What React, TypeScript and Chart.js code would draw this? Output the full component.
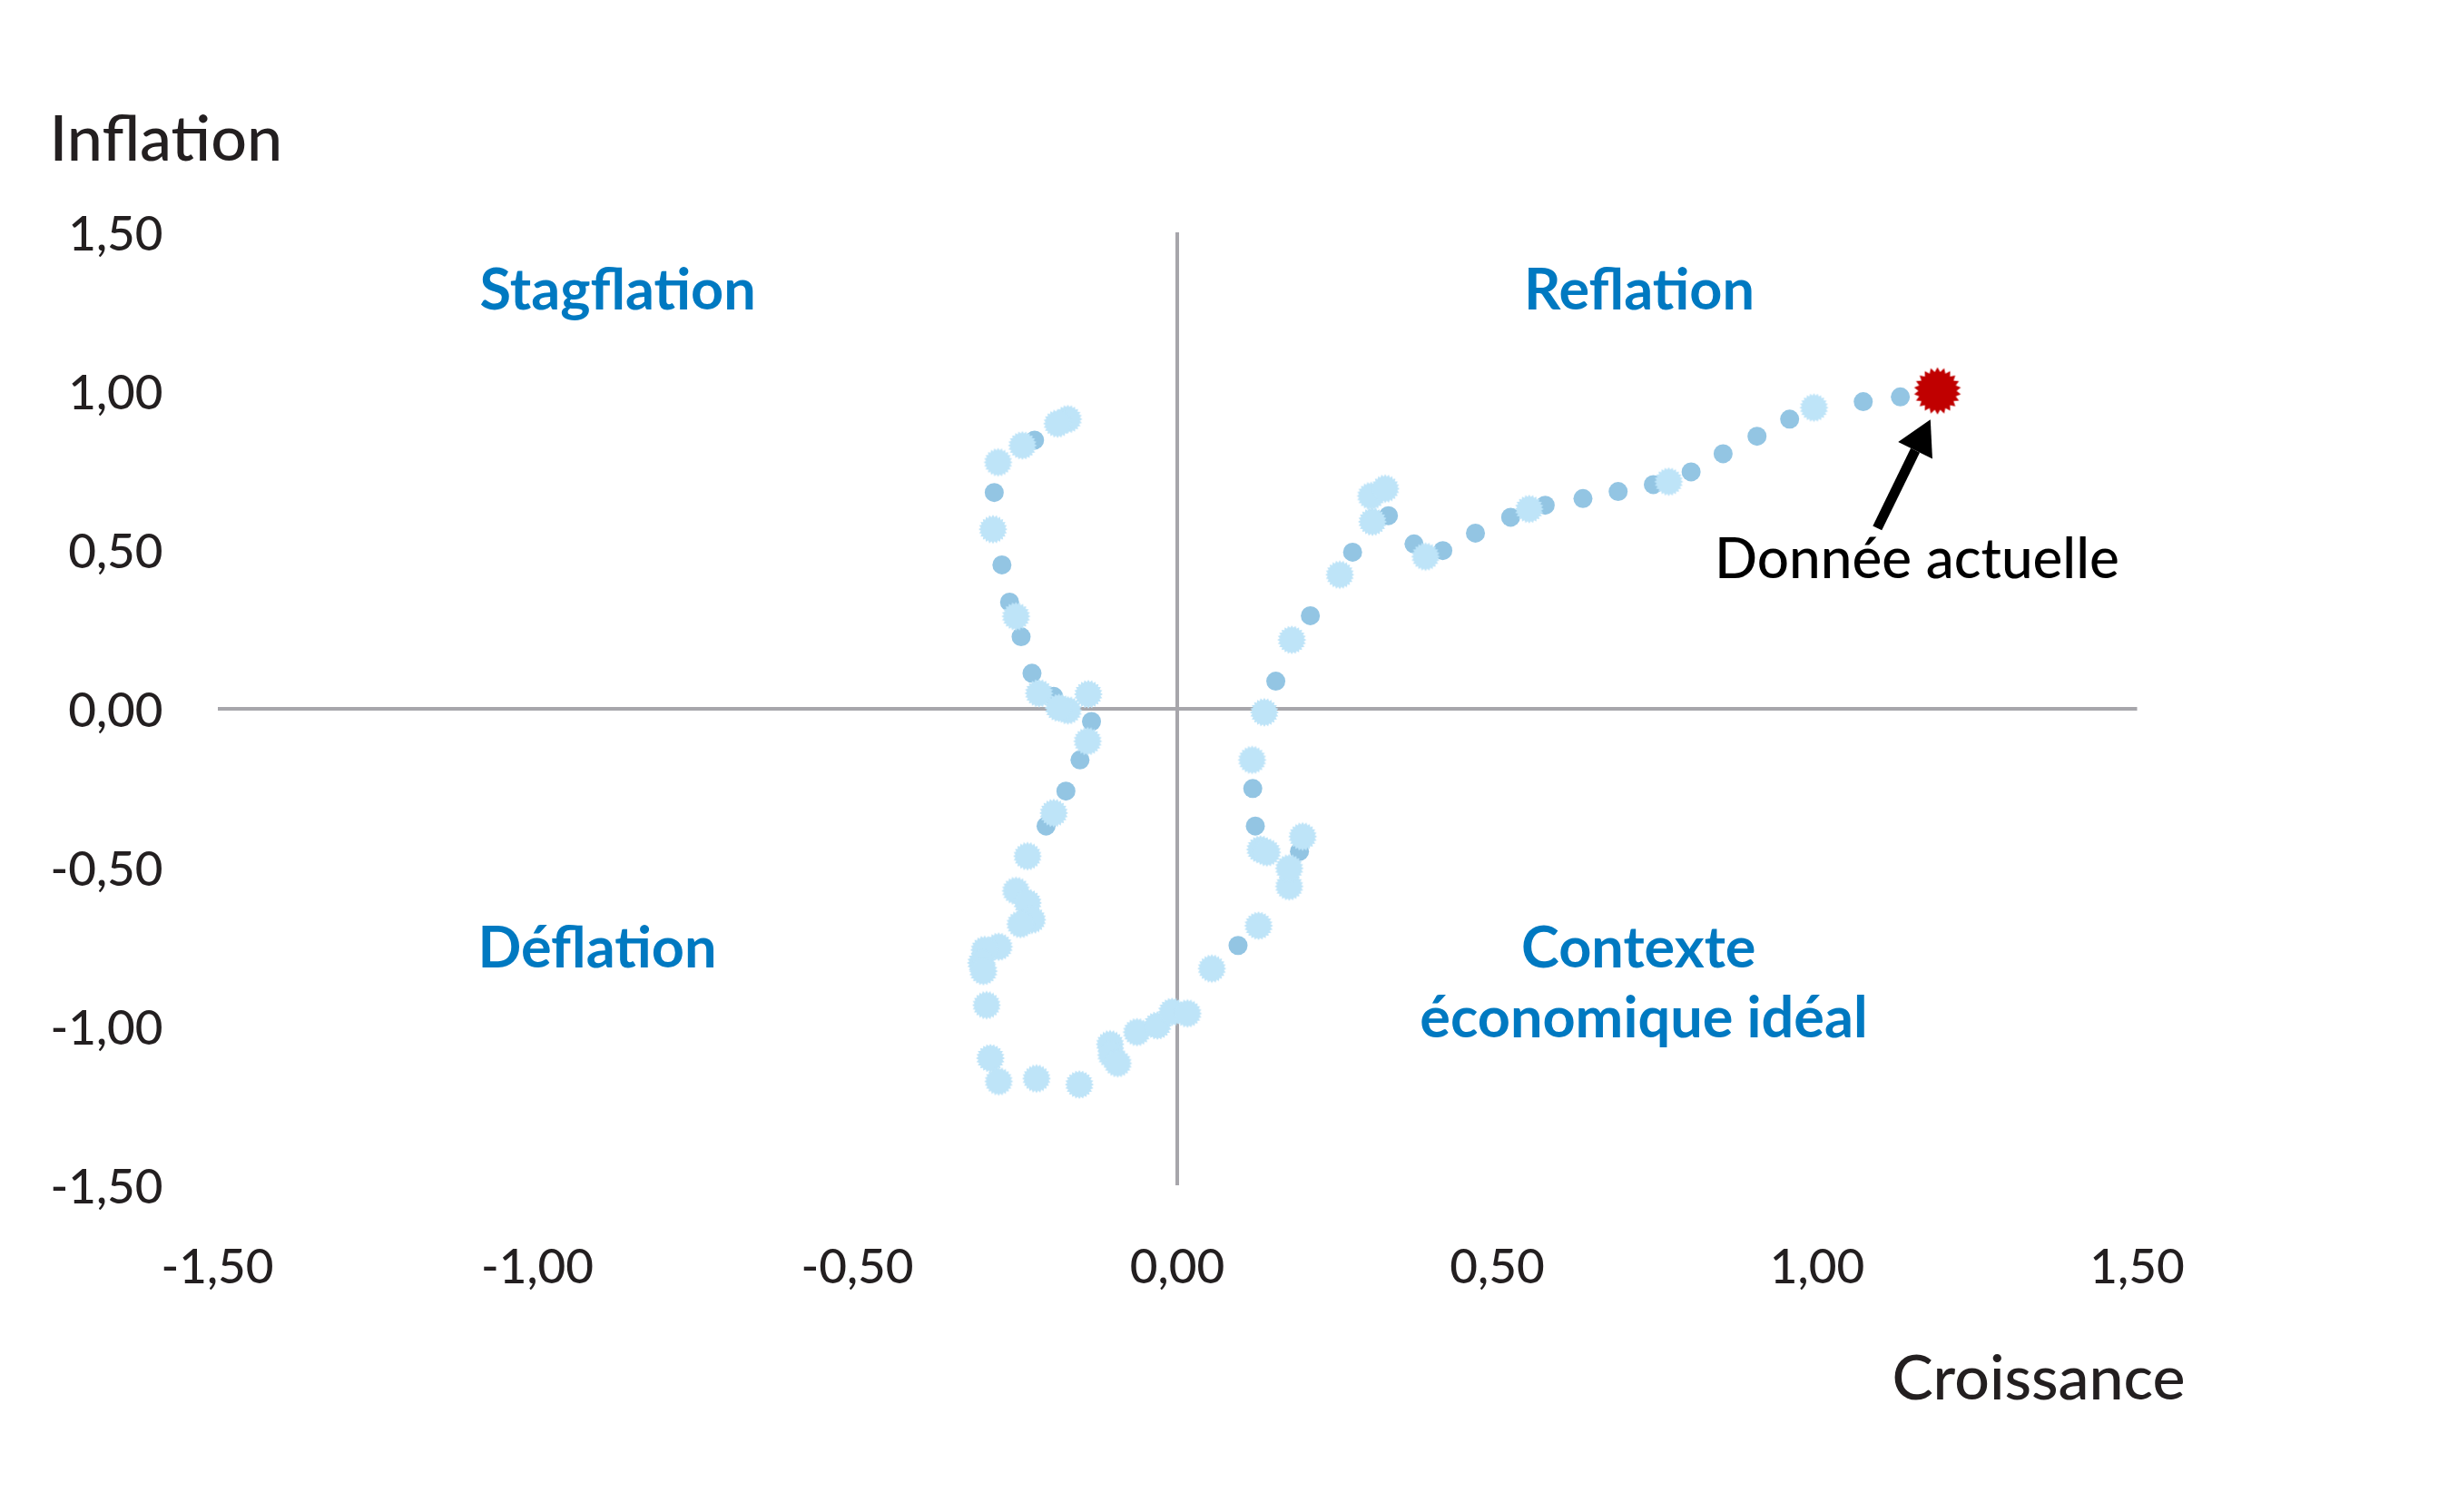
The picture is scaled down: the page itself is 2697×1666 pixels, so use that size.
import React, { useEffect, useRef } from "react";
import { Chart, registerables } from "chart.js";

Chart.register(...registerables);

// ---- Data (Croissance = x, Inflation = y) ----
const monthlyGrowth = [
  -0.223, -0.286, -0.274, -0.262, -0.244, -0.227, -0.193, -0.134, -0.152, -0.174, -0.205,
  0.095, 0.191, 0.122, 0.118, 0.154, 0.208, 0.274, 0.330, 0.370, 0.415, 0.466, 0.521,
  0.575, 0.634, 0.689, 0.744, 0.803, 0.853, 0.906, 0.957, 1.072, 1.130,
];
const monthlyInflation = [
  0.846, 0.681, 0.453, 0.336, 0.227, 0.112, 0.039, -0.040, -0.161, -0.259, -0.369,
  -0.745, -0.449, -0.369, -0.251, 0.087, 0.293, 0.493, 0.608, 0.519, 0.498, 0.553, 0.603,
  0.641, 0.662, 0.684, 0.706, 0.746, 0.803, 0.858, 0.912, 0.967, 0.982,
];

const quarterlyGrowth = [
  -0.171, -0.187, -0.242, -0.280, -0.288, -0.252, -0.216, -0.139, -0.171, -0.185, -0.140,
  -0.193, -0.234, -0.252, -0.234, -0.227, -0.245, -0.279, -0.301, -0.306, -0.303, -0.298,
  -0.292, -0.279, -0.220, -0.153, -0.105, -0.103, -0.093, -0.063, -0.031, -0.008, 0.016,
  0.054, 0.127, 0.175, 0.175, 0.196, 0.130, 0.140, 0.117, 0.136, 0.179, 0.254, 0.305,
  0.303, 0.325, 0.388, 0.550, 0.768, 0.995,
];
const quarterlyInflation = [
  0.912, 0.898, 0.829, 0.776, 0.565, 0.291, 0.049, 0.046, -0.005, 0.003, -0.102,
  -0.328, -0.464, -0.573, -0.611, -0.664, -0.678, -0.749, -0.759, -0.800, -0.826, -0.933,
  -1.100, -1.173, -1.164, -1.183, -1.056, -1.090, -1.116, -1.018, -0.997, -0.954, -0.959,
  -0.818, -0.683, -0.559, -0.502, -0.402, -0.443, -0.452, -0.161, -0.011, 0.217, 0.422, 0.589,
  0.670, 0.693, 0.479, 0.629, 0.715, 0.948,
];

const currentGrowth = [1.188];
const currentInflation = [1.001];

const xTickLabels = ["-1,50", "-1,00", "-0,50", "0,00", "0,50", "1,00", "1,50"];
const yTickLabels = ["-1,50", "-1,00", "-0,50", "0,00", "0,50", "1,00", "1,50"];

const xAxisTitle = "Croissance";
const yAxisTitle = "Inflation";
const quadrantLabels = ["Stagflation", "Reflation", "Déflation", "Contexte", "économique idéal"];
const currentLabel = "Donnée actuelle";

const FONT = "Lato, 'Open Sans', sans-serif";
const TEXT = "#231F20";
const BLUE = "#0079C1";

function makeStar(outer: number, inner: number, spikes: number, color: string) {
  const size = Math.ceil(outer * 2 + 2);
  const c = document.createElement("canvas");
  c.width = size;
  c.height = size;
  const g = c.getContext("2d")!;
  g.fillStyle = color;
  g.beginPath();
  const cx = size / 2;
  const cy = size / 2;
  for (let i = 0; i < spikes * 2; i++) {
    const r = i % 2 === 0 ? outer : inner;
    const a = (Math.PI * i) / spikes - Math.PI / 2;
    const px = cx + r * Math.cos(a);
    const py = cy + r * Math.sin(a);
    if (i === 0) g.moveTo(px, py);
    else g.lineTo(px, py);
  }
  g.closePath();
  g.fill();
  return c;
}

const toPts = (xs: number[], ys: number[]) => xs.map((x, i) => ({ x, y: ys[i] }));

export default function App() {
  const ref = useRef<HTMLCanvasElement | null>(null);

  useEffect(() => {
    document.body.style.margin = "0";
    const canvas = ref.current!;
    const lightStar = makeStar(16, 13.3, 24, "#BEE4F8");
    const redStar = makeStar(26, 21, 22, "#C00000");

    const overlay = {
      id: "overlay",
      afterDatasetsDraw(chart: any) {
        const { ctx, chartArea } = chart;
        const xs = chart.scales.x;
        const ys = chart.scales.y;
        const X = (v: number) => xs.getPixelForValue(v);
        const Y = (v: number) => ys.getPixelForValue(v);
        ctx.save();
        // axis titles
        ctx.fillStyle = TEXT;
        ctx.font = `500 70px ${FONT}`;
        ctx.textBaseline = "alphabetic";
        ctx.textAlign = "left";
        ctx.fillText(yAxisTitle, chartArea.left - 185, chartArea.top - 79);
        ctx.font = `500 68px ${FONT}`;
        ctx.textAlign = "right";
        ctx.fillText(xAxisTitle, chartArea.right + 53, chartArea.bottom + 236);

        // quadrant labels
        ctx.fillStyle = BLUE;
        ctx.font = `bold 63px ${FONT}`;
        ctx.textAlign = "left";
        ctx.fillText(quadrantLabels[0], X(-1.09), Y(1.258));
        ctx.fillText(quadrantLabels[2], X(-1.093), Y(-0.815));
        ctx.textAlign = "center";
        ctx.fillText(quadrantLabels[1], X(0.722), Y(1.258));
        ctx.fillText(quadrantLabels[3], X(0.721), Y(-0.815));
        ctx.fillText(quadrantLabels[4], X(0.729), Y(-1.035));

        // current data label
        ctx.fillStyle = "#000000";
        ctx.font = `500 62px ${FONT}`;
        ctx.textAlign = "center";
        ctx.fillText(currentLabel, X(1.156), Y(0.412));

        // arrow
        const sx = X(1.094), sy = Y(0.569);
        const tx = X(1.177), ty = Y(0.911);
        const ang = Math.atan2(ty - sy, tx - sx);
        const headLen = 38, headHalf = 21;
        const bx = tx - headLen * Math.cos(ang);
        const by = ty - headLen * Math.sin(ang);
        ctx.strokeStyle = "#000000";
        ctx.lineWidth = 11;
        ctx.lineCap = "butt";
        ctx.beginPath();
        ctx.moveTo(sx, sy);
        ctx.lineTo(bx, by);
        ctx.stroke();
        ctx.fillStyle = "#000000";
        ctx.beginPath();
        ctx.moveTo(tx, ty);
        ctx.lineTo(bx + headHalf * Math.sin(ang), by - headHalf * Math.cos(ang));
        ctx.lineTo(bx - headHalf * Math.sin(ang), by + headHalf * Math.cos(ang));
        ctx.closePath();
        ctx.fill();
        ctx.restore();
      },
    };

    const zeroGrid = (c: any) => (Math.abs(c.tick?.value ?? 1) < 1e-9 ? "#A7A6AB" : "rgba(0,0,0,0)");

    const chart = new Chart(canvas, {
      type: "scatter",
      data: {
        datasets: [
          {
            label: "Donnée actuelle",
            data: toPts(currentGrowth, currentInflation),
            pointStyle: redStar as any,
            pointRadius: 26,
            order: 0,
          },
          {
            label: "Trimestriel",
            data: toPts(quarterlyGrowth, quarterlyInflation),
            pointStyle: lightStar as any,
            pointRadius: 16,
            order: 1,
          },
          {
            label: "Mensuel",
            data: toPts(monthlyGrowth, monthlyInflation),
            pointStyle: "circle",
            pointRadius: 10.5,
            pointBackgroundColor: "#93C5E3",
            pointBorderWidth: 0,
            borderWidth: 0,
            order: 2,
          },
        ],
      },
      options: {
        animation: false,
        responsive: false,
        devicePixelRatio: 1,
        layout: { padding: { top: 256, right: 342.5, bottom: 0, left: 0 } },
        plugins: { legend: { display: false }, tooltip: { enabled: false } },
        scales: {
          x: {
            type: "linear",
            position: "bottom",
            min: -1.5,
            max: 1.5,
            border: { display: false },
            grid: { color: zeroGrid, lineWidth: 4, drawTicks: false },
            ticks: {
              stepSize: 0.5,
              padding: 59,
              color: TEXT,
              font: { family: FONT, size: 53, weight: "500" },
              callback: (_v: any, i: number) => xTickLabels[i],
            },
            afterFit: (s: any) => {
              s.height = 360;
            },
          },
          y: {
            type: "linear",
            position: "left",
            min: -1.5,
            max: 1.5,
            border: { display: false },
            grid: { color: zeroGrid, lineWidth: 4, drawTicks: false },
            ticks: {
              stepSize: 0.5,
              padding: 60,
              labelOffset: 3,
              color: TEXT,
              font: { family: FONT, size: 53, weight: "500" },
              callback: (_v: any, i: number) => yTickLabels[i],
            },
            afterFit: (s: any) => {
              s.width = 239.5;
            },
          },
        },
      },
      plugins: [overlay],
    });
    return () => chart.destroy();
  }, []);

  return <canvas ref={ref} width={2697} height={1666} style={{ display: "block" }} />;
}
